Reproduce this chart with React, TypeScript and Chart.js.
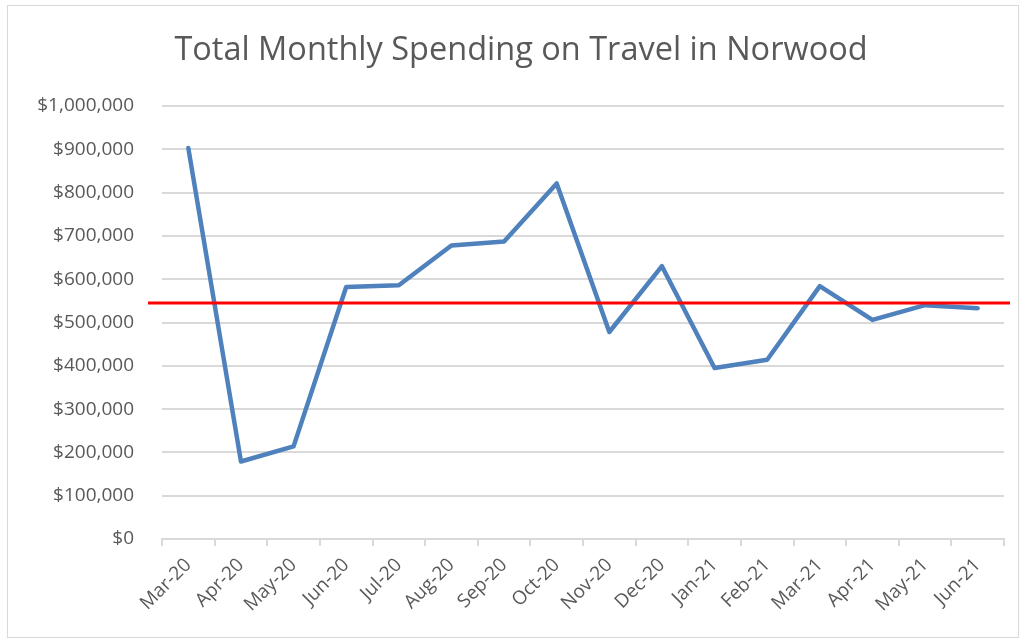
import React, { useEffect, useRef } from "react";
import { Chart, registerables } from "chart.js";

Chart.register(...registerables);

const titleText = "Total Monthly Spending on Travel in Norwood";
const months = [
  "Mar-20", "Apr-20", "May-20", "Jun-20", "Jul-20", "Aug-20", "Sep-20", "Oct-20",
  "Nov-20", "Dec-20", "Jan-21", "Feb-21", "Mar-21", "Apr-21", "May-21", "Jun-21",
];
const spending = [
  903000, 179000, 214000, 582000, 586000, 678000, 687000, 821000,
  478000, 630000, 395000, 414000, 584000, 506000, 540000, 533000,
];
const averageLine = [545000];
const yTickValues = [0, 100000, 200000, 300000, 400000, 500000, 600000, 700000, 800000, 900000, 1000000];

const textColor = "#595959";
const gridColor = "#d9d9d9";
const fontFamily = "'Open Sans', 'Liberation Sans', sans-serif";

const avgLinePlugin = {
  id: "avgLine",
  afterDatasetsDraw(chart: any) {
    const { ctx, chartArea, scales } = chart;
    const y = scales.y.getPixelForValue(averageLine[0]);
    ctx.save();
    ctx.strokeStyle = "#ff0000";
    ctx.lineWidth = 3;
    ctx.beginPath();
    ctx.moveTo(chartArea.left - 14, y);
    ctx.lineTo(chartArea.right + 6, y);
    ctx.stroke();
    ctx.restore();
  },
};

export default function App() {
  const canvasRef = useRef<HTMLCanvasElement | null>(null);

  useEffect(() => {
    document.body.style.margin = "0";
    const canvas = canvasRef.current;
    if (!canvas) return;
    const chart = new Chart(canvas, {
      type: "line",
      data: {
        labels: months,
        datasets: [
          {
            label: "Spending",
            data: spending,
            borderColor: "#4f81bd",
            backgroundColor: "#4f81bd",
            borderWidth: 4.5,
            pointRadius: 0,
            tension: 0,
            borderJoinStyle: "round",
            borderCapStyle: "round",
          },
        ],
      },
      options: {
        animation: false,
        responsive: false,
        maintainAspectRatio: false,
        layout: { padding: { left: 38, right: 18, top: 0, bottom: 0 } },
        plugins: {
          legend: { display: false },
          tooltip: { enabled: false },
          title: {
            display: true,
            text: titleText,
            color: textColor,
            font: { family: fontFamily, size: 32.5, weight: "normal" },
            padding: { top: 31, bottom: 36 },
          },
        },
        scales: {
          x: {
            offset: true,
            grid: {
              display: true,
              offset: true,
              drawOnChartArea: false,
              drawTicks: true,
              tickLength: 7,
              color: gridColor,
              lineWidth: 2,
            },
            border: { display: true, color: gridColor, width: 2 },
            ticks: {
              color: textColor,
              font: { family: fontFamily, size: 19 },
              minRotation: 45,
              maxRotation: 45,
              autoSkip: false,
              padding: 8,
            },
            afterFit(scale: any) {
              scale.height = 102;
            },
          },
          y: {
            min: 0,
            max: 1000000,
            afterBuildTicks(scale: any) {
              scale.ticks = yTickValues.map((v) => ({ value: v }));
            },
            grid: { color: gridColor, lineWidth: 2, drawTicks: false },
            border: { display: false },
            ticks: {
              color: textColor,
              font: { family: fontFamily, size: 19 },
              padding: 28,
              callback: (v: any) => "$" + Number(v).toLocaleString("en-US"),
            },
            afterFit(scale: any) {
              scale.width = 124;
            },
          },
        },
      },
      plugins: [avgLinePlugin],
    });
    return () => chart.destroy();
  }, []);

  return (
    <div style={{ position: "relative", width: 1022, height: 641 }}>
      <canvas ref={canvasRef} width={1022} height={641} style={{ display: "block" }} />
      <div
        style={{
          position: "absolute",
          left: 7,
          top: 5,
          width: 1012,
          height: 633,
          border: "1.5px solid #d9d9d9",
          boxSizing: "border-box",
          pointerEvents: "none",
        }}
      />
    </div>
  );
}
